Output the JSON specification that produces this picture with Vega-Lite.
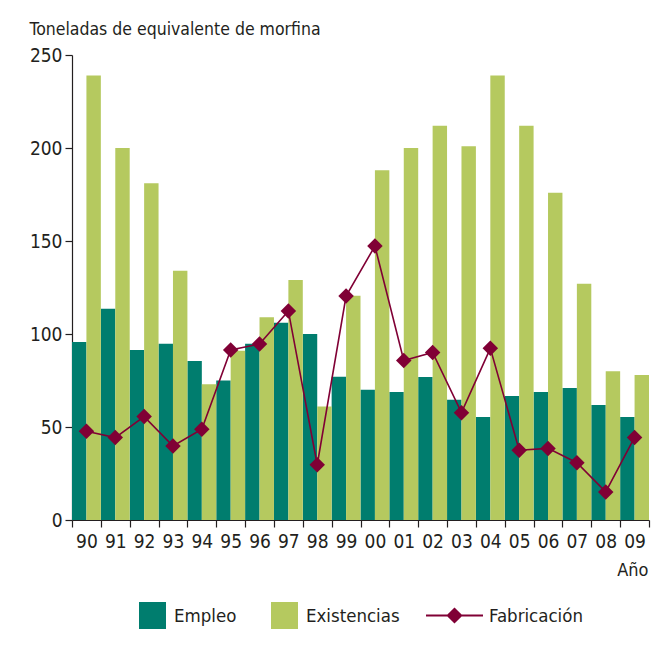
{
  "$schema": "https://vega.github.io/schema/vega-lite/v6.json",
  "autosize": "none",
  "padding": {"left": 72, "top": 55, "right": 4, "bottom": 131},
  "width": 577,
  "height": 465,
  "background": "white",
  "config": {
    "view": {"stroke": null},
    "font": "DejaVu Sans Condensed, Roboto, sans-serif",
    "axis": {"labelFont": "DejaVu Sans Condensed, Roboto, sans-serif", "titleFont": "DejaVu Sans Condensed, Roboto, sans-serif", "labelColor": "#231F20", "titleColor": "#231F20", "domainColor": "#231F20", "tickColor": "#231F20", "grid": false},
    "legend": {"labelFont": "DejaVu Sans Condensed, Roboto, sans-serif", "layout": {"bottom": {"anchor": "middle", "margin": 26}}}
  },
  "datasets": {
    "d": [
      {"year": "90", "serie": "Empleo", "valor": 95.7},
      {"year": "91", "serie": "Empleo", "valor": 113.6},
      {"year": "92", "serie": "Empleo", "valor": 91.4},
      {"year": "93", "serie": "Empleo", "valor": 94.8},
      {"year": "94", "serie": "Empleo", "valor": 85.5},
      {"year": "95", "serie": "Empleo", "valor": 75},
      {"year": "96", "serie": "Empleo", "valor": 94.8},
      {"year": "97", "serie": "Empleo", "valor": 106},
      {"year": "98", "serie": "Empleo", "valor": 100},
      {"year": "99", "serie": "Empleo", "valor": 77},
      {"year": "00", "serie": "Empleo", "valor": 70},
      {"year": "01", "serie": "Empleo", "valor": 68.8},
      {"year": "02", "serie": "Empleo", "valor": 76.9},
      {"year": "03", "serie": "Empleo", "valor": 64.7},
      {"year": "04", "serie": "Empleo", "valor": 55.4},
      {"year": "05", "serie": "Empleo", "valor": 66.7},
      {"year": "06", "serie": "Empleo", "valor": 68.8},
      {"year": "07", "serie": "Empleo", "valor": 71},
      {"year": "08", "serie": "Empleo", "valor": 61.8},
      {"year": "09", "serie": "Empleo", "valor": 55.4},
      {"year": "90", "serie": "Existencias", "valor": 239},
      {"year": "91", "serie": "Existencias", "valor": 200},
      {"year": "92", "serie": "Existencias", "valor": 181},
      {"year": "93", "serie": "Existencias", "valor": 134},
      {"year": "94", "serie": "Existencias", "valor": 73},
      {"year": "95", "serie": "Existencias", "valor": 91},
      {"year": "96", "serie": "Existencias", "valor": 109},
      {"year": "97", "serie": "Existencias", "valor": 129},
      {"year": "98", "serie": "Existencias", "valor": 61},
      {"year": "99", "serie": "Existencias", "valor": 120.5},
      {"year": "00", "serie": "Existencias", "valor": 188},
      {"year": "01", "serie": "Existencias", "valor": 200},
      {"year": "02", "serie": "Existencias", "valor": 212},
      {"year": "03", "serie": "Existencias", "valor": 201},
      {"year": "04", "serie": "Existencias", "valor": 239},
      {"year": "05", "serie": "Existencias", "valor": 212},
      {"year": "06", "serie": "Existencias", "valor": 176},
      {"year": "07", "serie": "Existencias", "valor": 127},
      {"year": "08", "serie": "Existencias", "valor": 80},
      {"year": "09", "serie": "Existencias", "valor": 78},
      {"year": "90", "serie": "Fabricación", "valor": 47.7},
      {"year": "91", "serie": "Fabricación", "valor": 44.3},
      {"year": "92", "serie": "Fabricación", "valor": 55.6},
      {"year": "93", "serie": "Fabricación", "valor": 39.8},
      {"year": "94", "serie": "Fabricación", "valor": 48.8},
      {"year": "95", "serie": "Fabricación", "valor": 91.4},
      {"year": "96", "serie": "Fabricación", "valor": 94.6},
      {"year": "97", "serie": "Fabricación", "valor": 112.4},
      {"year": "98", "serie": "Fabricación", "valor": 29.7},
      {"year": "99", "serie": "Fabricación", "valor": 120.4},
      {"year": "00", "serie": "Fabricación", "valor": 147.3},
      {"year": "01", "serie": "Fabricación", "valor": 85.8},
      {"year": "02", "serie": "Fabricación", "valor": 90.1},
      {"year": "03", "serie": "Fabricación", "valor": 57.7},
      {"year": "04", "serie": "Fabricación", "valor": 92.3},
      {"year": "05", "serie": "Fabricación", "valor": 37.5},
      {"year": "06", "serie": "Fabricación", "valor": 38.5},
      {"year": "07", "serie": "Fabricación", "valor": 30.8},
      {"year": "08", "serie": "Fabricación", "valor": 15.1},
      {"year": "09", "serie": "Fabricación", "valor": 44.4}
    ]
  },
  "data": {"name": "d"},
  "encoding": {
    "x": {
      "field": "year", "type": "nominal", "sort": null,
      "scale": {"paddingInner": 0, "paddingOuter": 0},
      "axis": {
        "title": "Año", "labelAngle": 0, "labelFontSize": 19, "labelPadding": 5,
        "tickBand": "extent", "tickSize": 7, "domainWidth": 1.2, "tickWidth": 1.2,
        "titleFontSize": 18, "titleFontWeight": "normal", "titleAnchor": "end", "titleAlign": "right",
        "titleBaseline": "alphabetic", "titleX": 576, "titleY": 55
      }
    },
    "y": {
      "field": "valor", "type": "quantitative",
      "scale": {"domain": [0, 250], "nice": false},
      "axis": {
        "title": "Toneladas de equivalente de morfina", "values": [0, 50, 100, 150, 200, 250],
        "labelFontSize": 19, "labelPadding": 3, "tickSize": 7, "domainWidth": 1.2, "tickWidth": 1.2,
        "titleFontSize": 17.5, "titleFontWeight": "normal", "titleAngle": 0, "titleAlign": "left",
        "titleBaseline": "alphabetic", "titleX": -43, "titleY": -21
      }
    }
  },
  "layer": [
    {
      "transform": [{"filter": "datum.serie !== 'Fabricación'"}],
      "mark": {"type": "bar", "stroke": null},
      "encoding": {
        "xOffset": {"field": "serie", "type": "nominal", "scale": {"paddingInner": 0, "paddingOuter": 0}},
        "color": {
          "field": "serie", "type": "nominal",
          "scale": {"domain": ["Empleo", "Existencias"], "range": ["#007D6E", "#B5C95F"]},
          "legend": {
            "title": null, "orient": "bottom", "direction": "horizontal", "symbolType": "square",
            "symbolSize": 729, "symbolStrokeWidth": 0, "labelFontSize": 18.5, "labelColor": "#231F20",
            "labelOffset": 8, "columnPadding": 34, "offset": 23
          }
        }
      }
    },
    {
      "transform": [{"filter": "datum.serie === 'Fabricación'"}],
      "mark": {"type": "line", "color": "#800035", "strokeWidth": 1.6}
    },
    {
      "transform": [{"filter": "datum.serie === 'Fabricación'"}],
      "mark": {"type": "point", "shape": "diamond", "filled": true, "opacity": 1, "size": 240},
      "encoding": {
        "color": {
          "field": "serie", "type": "nominal",
          "scale": {"domain": ["Fabricación"], "range": ["#800035"]},
          "legend": {
            "title": null, "orient": "bottom", "direction": "horizontal",
            "symbolType": "M-2.11,-0.074L2.11,-0.074L2.11,0.074L-2.11,0.074Z M0,-0.6L0.6,0L0,0.6L-0.6,0Z",
            "symbolSize": 729, "symbolOffset": 15, "symbolStrokeWidth": 0, "labelFontSize": 18.5, "labelColor": "#231F20",
            "labelOffset": 21, "offset": 23
          }
        }
      }
    }
  ],
  "resolve": {"scale": {"color": "independent"}, "legend": {"color": "independent"}}
}
